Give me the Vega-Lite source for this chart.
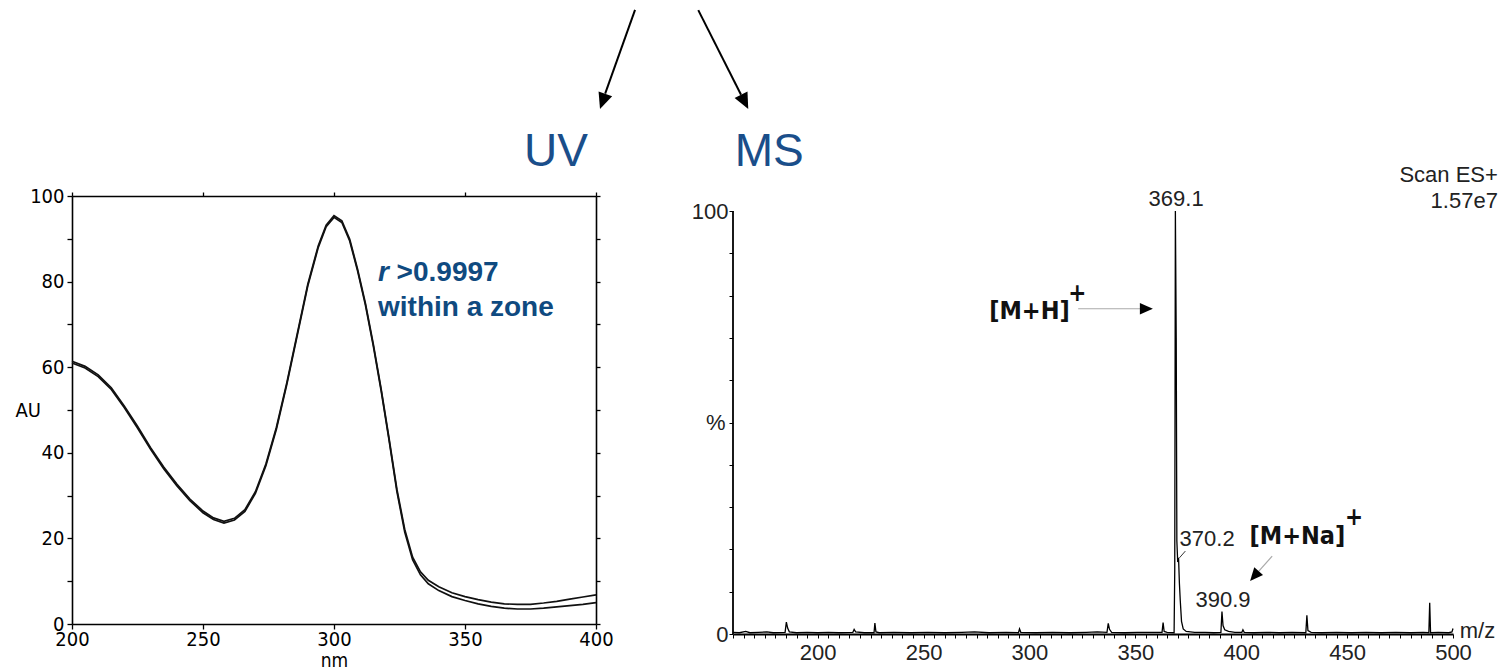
{
  "$schema": "https://vega.github.io/schema/vega-lite/v6.json",
  "padding": {"left": 15, "top": 8, "right": 0, "bottom": 0},
  "bounds": "flush",
  "spacing": 137,
  "config": {
    "view": {"stroke": null},
    "axis": {"grid": false, "domainColor": "#000", "tickColor": "#000", "labelColor": "#000", "titleColor": "#000", "titleFontWeight": "normal", "labelOverlap": false, "labelBound": false, "labelFlush": false}
  },
  "datasets": {
    "uvA": [
      {"nm": 200, "au": 61.0}, {"nm": 205, "au": 59.8}, {"nm": 210, "au": 57.8}, {"nm": 215, "au": 54.8},
      {"nm": 220, "au": 50.5}, {"nm": 225, "au": 45.8}, {"nm": 230, "au": 40.8}, {"nm": 235, "au": 36.3},
      {"nm": 240, "au": 32.3}, {"nm": 245, "au": 28.8}, {"nm": 250, "au": 26.0}, {"nm": 254, "au": 24.4},
      {"nm": 258, "au": 23.6}, {"nm": 262, "au": 24.3}, {"nm": 266, "au": 26.3}, {"nm": 270, "au": 30.5},
      {"nm": 274, "au": 37.0}, {"nm": 278, "au": 45.5}, {"nm": 282, "au": 56.0}, {"nm": 286, "au": 67.5},
      {"nm": 290, "au": 79.0}, {"nm": 294, "au": 88.0}, {"nm": 297, "au": 92.8}, {"nm": 300, "au": 95.0},
      {"nm": 303, "au": 93.8}, {"nm": 306, "au": 89.5}, {"nm": 309, "au": 82.5}, {"nm": 312, "au": 74.5},
      {"nm": 315, "au": 65.0}, {"nm": 318, "au": 54.5}, {"nm": 321, "au": 43.0}, {"nm": 324, "au": 31.0},
      {"nm": 327, "au": 21.5}, {"nm": 330, "au": 15.0}, {"nm": 333, "au": 11.5}, {"nm": 336, "au": 9.4},
      {"nm": 340, "au": 7.8}, {"nm": 345, "au": 6.4}, {"nm": 350, "au": 5.5}, {"nm": 355, "au": 4.7},
      {"nm": 360, "au": 4.1}, {"nm": 365, "au": 3.7}, {"nm": 370, "au": 3.5}, {"nm": 375, "au": 3.5},
      {"nm": 380, "au": 3.7}, {"nm": 385, "au": 4.0}, {"nm": 390, "au": 4.3}, {"nm": 395, "au": 4.6},
      {"nm": 400, "au": 5.0}
    ],
    "uvB": [
      {"nm": 200, "au": 61.4}, {"nm": 205, "au": 60.2}, {"nm": 210, "au": 58.2}, {"nm": 215, "au": 55.2},
      {"nm": 220, "au": 50.9}, {"nm": 225, "au": 46.2}, {"nm": 230, "au": 41.2}, {"nm": 235, "au": 36.7},
      {"nm": 240, "au": 32.7}, {"nm": 245, "au": 29.2}, {"nm": 250, "au": 26.4}, {"nm": 254, "au": 24.8},
      {"nm": 258, "au": 24.0}, {"nm": 262, "au": 24.7}, {"nm": 266, "au": 26.7}, {"nm": 270, "au": 30.9},
      {"nm": 274, "au": 37.4}, {"nm": 278, "au": 45.9}, {"nm": 282, "au": 56.4}, {"nm": 286, "au": 67.9},
      {"nm": 290, "au": 79.4}, {"nm": 294, "au": 88.4}, {"nm": 297, "au": 93.2}, {"nm": 300, "au": 95.4},
      {"nm": 303, "au": 94.2}, {"nm": 306, "au": 89.9}, {"nm": 309, "au": 82.9}, {"nm": 312, "au": 74.9},
      {"nm": 315, "au": 65.4}, {"nm": 318, "au": 54.9}, {"nm": 321, "au": 43.4}, {"nm": 324, "au": 31.5},
      {"nm": 327, "au": 22.1}, {"nm": 330, "au": 15.6}, {"nm": 333, "au": 12.2}, {"nm": 336, "au": 10.2},
      {"nm": 340, "au": 8.7}, {"nm": 345, "au": 7.3}, {"nm": 350, "au": 6.4}, {"nm": 355, "au": 5.7},
      {"nm": 360, "au": 5.1}, {"nm": 365, "au": 4.7}, {"nm": 370, "au": 4.6}, {"nm": 375, "au": 4.6},
      {"nm": 380, "au": 4.9}, {"nm": 385, "au": 5.3}, {"nm": 390, "au": 5.8}, {"nm": 395, "au": 6.3},
      {"nm": 400, "au": 6.8}
    ],
    "ms": [
      {"mz": 160, "p": 0.4}, {"mz": 163, "p": 0.3}, {"mz": 166, "p": 0.6}, {"mz": 168, "p": 0.3},
      {"mz": 172, "p": 0.4}, {"mz": 176, "p": 0.5}, {"mz": 179, "p": 0.3}, {"mz": 184.6, "p": 0.4},
      {"mz": 185.2, "p": 2.8}, {"mz": 185.8, "p": 1.4}, {"mz": 186.6, "p": 0.5}, {"mz": 190, "p": 0.3},
      {"mz": 195, "p": 0.4}, {"mz": 200, "p": 0.3}, {"mz": 205, "p": 0.4}, {"mz": 210, "p": 0.3},
      {"mz": 216.6, "p": 0.4}, {"mz": 217.2, "p": 1.1}, {"mz": 217.9, "p": 0.5}, {"mz": 222, "p": 0.3},
      {"mz": 226.6, "p": 0.3}, {"mz": 227.0, "p": 2.6}, {"mz": 227.5, "p": 0.5}, {"mz": 229, "p": 0.3},
      {"mz": 236, "p": 0.4}, {"mz": 244, "p": 0.3}, {"mz": 252, "p": 0.4}, {"mz": 260, "p": 0.3},
      {"mz": 268, "p": 0.4}, {"mz": 274, "p": 0.5}, {"mz": 281, "p": 0.3}, {"mz": 289, "p": 0.4},
      {"mz": 294.8, "p": 0.3}, {"mz": 295.3, "p": 1.2}, {"mz": 295.9, "p": 0.4}, {"mz": 303, "p": 0.3},
      {"mz": 311, "p": 0.4}, {"mz": 319, "p": 0.3}, {"mz": 327, "p": 0.4}, {"mz": 332, "p": 0.5},
      {"mz": 336.6, "p": 0.4}, {"mz": 337.2, "p": 2.5}, {"mz": 337.8, "p": 1.1}, {"mz": 338.8, "p": 0.4},
      {"mz": 345, "p": 0.3}, {"mz": 351, "p": 0.4}, {"mz": 357, "p": 0.4}, {"mz": 362.6, "p": 0.4},
      {"mz": 363.1, "p": 2.7}, {"mz": 363.6, "p": 0.6}, {"mz": 365, "p": 0.4}, {"mz": 368.3, "p": 0.3},
      {"mz": 368.6, "p": 15}, {"mz": 368.9, "p": 100}, {"mz": 369.3, "p": 70}, {"mz": 369.6, "p": 22},
      {"mz": 370.0, "p": 17}, {"mz": 370.4, "p": 18}, {"mz": 370.8, "p": 12}, {"mz": 371.2, "p": 8},
      {"mz": 371.8, "p": 3}, {"mz": 372.6, "p": 1.2}, {"mz": 374, "p": 0.6}, {"mz": 378, "p": 0.4},
      {"mz": 383, "p": 0.4}, {"mz": 387, "p": 0.3}, {"mz": 390.4, "p": 0.4}, {"mz": 390.9, "p": 5.3},
      {"mz": 391.4, "p": 2.0}, {"mz": 392.2, "p": 1.0}, {"mz": 394, "p": 0.6}, {"mz": 397, "p": 0.4},
      {"mz": 400.3, "p": 0.4}, {"mz": 400.8, "p": 1.0}, {"mz": 401.4, "p": 0.4}, {"mz": 406, "p": 0.3},
      {"mz": 412, "p": 0.4}, {"mz": 418, "p": 0.3}, {"mz": 424, "p": 0.4}, {"mz": 430.5, "p": 0.3},
      {"mz": 431.0, "p": 4.4}, {"mz": 431.5, "p": 0.8}, {"mz": 433, "p": 0.4}, {"mz": 438, "p": 0.3},
      {"mz": 445, "p": 0.4}, {"mz": 452, "p": 0.3}, {"mz": 459, "p": 0.4}, {"mz": 466, "p": 0.3},
      {"mz": 473, "p": 0.4}, {"mz": 480, "p": 0.3}, {"mz": 486, "p": 0.4}, {"mz": 488.6, "p": 0.3},
      {"mz": 489.0, "p": 7.4}, {"mz": 489.4, "p": 0.3}, {"mz": 493, "p": 0.4}, {"mz": 498, "p": 0.3},
      {"mz": 499.5, "p": 0.5}, {"mz": 500, "p": 1.3}
    ]
  },
  "hconcat": [
    {
      "width": 524,
      "height": 428,
      "resolve": {"axis": {"x": "independent", "y": "independent"}},
      "layer": [
        {
          "data": {"name": "uvA"},
          "mark": {"type": "line", "color": "#111", "strokeWidth": 1.7},
          "encoding": {
            "x": {"field": "nm", "type": "quantitative", "scale": {"domain": [200, 400], "nice": false},
              "axis": {"orient": "bottom", "values": [200, 250, 300, 350, 400], "tickSize": 5, "domainWidth": 1.6, "tickWidth": 1.3,
                "labelFont": "DejaVu Sans Condensed, sans-serif", "labelFontSize": 20, "labelPadding": 0,
                "title": "nm", "titleFont": "DejaVu Sans Condensed, sans-serif", "titleFontSize": 19,
                "titleY": 42, "titleBaseline": "alphabetic"}},
            "y": {"field": "au", "type": "quantitative", "scale": {"domain": [0, 100], "nice": false},
              "axis": {"orient": "left", "values": [0, 10, 20, 30, 40, 50, 60, 70, 80, 90, 100], "tickSize": 5, "domainWidth": 1.6, "tickWidth": 1.3,
                "labelExpr": "datum.value % 20 === 0 ? datum.label : ''",
                "labelFont": "DejaVu Sans Condensed, sans-serif", "labelFontSize": 20, "labelPadding": 3,
                "title": "AU", "titleFont": "DejaVu Sans Condensed, sans-serif", "titleFontSize": 20,
                "titleAngle": 0, "titleX": -57, "titleY": 214, "titleAlign": "left", "titleBaseline": "middle"}}
          }
        },
        {
          "data": {"name": "uvB"},
          "mark": {"type": "line", "color": "#111", "strokeWidth": 1.7},
          "encoding": {
            "x": {"field": "nm", "type": "quantitative",
              "axis": {"orient": "top", "values": [200, 250, 300, 350, 400], "tickSize": 4, "labels": false, "title": null, "domainWidth": 1.6, "tickWidth": 1.3}},
            "y": {"field": "au", "type": "quantitative",
              "axis": {"orient": "right", "values": [0, 10, 20, 30, 40, 50, 60, 70, 80, 90, 100], "tickSize": 4, "labels": false, "title": null, "domainWidth": 1.6, "tickWidth": 1.3}}
          }
        },
        {
          "data": {"values": [{"x": 316.8, "y": 80.1, "t": "r"}]},
          "mark": {"type": "text", "font": "Liberation Sans, Arial, sans-serif", "fontSize": 28, "fontWeight": "bold", "fontStyle": "italic", "color": "#0f4a80", "align": "left", "baseline": "alphabetic"},
          "encoding": {"x": {"field": "x", "type": "quantitative", "axis": null}, "y": {"field": "y", "type": "quantitative", "axis": null}, "text": {"field": "t"}}
        },
        {
          "data": {"values": [{"x": 323.9, "y": 80.1, "t": ">0.9997"}, {"x": 316.8, "y": 71.9, "t": "within a zone"}]},
          "mark": {"type": "text", "font": "Liberation Sans, Arial, sans-serif", "fontSize": 28, "fontWeight": "bold", "color": "#0f4a80", "align": "left", "baseline": "alphabetic"},
          "encoding": {"x": {"field": "x", "type": "quantitative", "axis": null}, "y": {"field": "y", "type": "quantitative", "axis": null}, "text": {"field": "t"}}
        },
        {
          "data": {"values": [{"x": 384.7, "y": 107.0, "t": "UV"}]},
          "mark": {"type": "text", "font": "Liberation Sans, Arial, sans-serif", "fontSize": 46, "color": "#1a4e8a", "align": "center", "baseline": "alphabetic"},
          "encoding": {"x": {"field": "x", "type": "quantitative", "axis": null}, "y": {"field": "y", "type": "quantitative", "axis": null}, "text": {"field": "t"}}
        },
        {
          "data": {"values": [{"x": 414.9, "y": 143.5, "x2": 403.5, "y2": 123.9}]},
          "mark": {"type": "rule", "color": "#000", "strokeWidth": 2},
          "encoding": {"x": {"field": "x", "type": "quantitative", "axis": null}, "y": {"field": "y", "type": "quantitative", "axis": null}, "x2": {"field": "x2"}, "y2": {"field": "y2"}}
        },
        {
          "data": {"values": [{"x": 402.55, "y": 122.1}]},
          "mark": {"type": "point", "shape": "M0,1L-0.9,-1L0.9,-1Z", "size": 256, "angle": 19.5, "filled": true, "color": "#000", "opacity": 1, "strokeWidth": 0},
          "encoding": {"x": {"field": "x", "type": "quantitative", "axis": null}, "y": {"field": "y", "type": "quantitative", "axis": null}}
        }
      ]
    },
    {
      "width": 720,
      "height": 438,
      "resolve": {"axis": {"x": "independent", "y": "independent"}},
      "layer": [
        {
          "data": {"name": "ms"},
          "mark": {"type": "line", "color": "#000", "strokeWidth": 1.3},
          "encoding": {
            "x": {"field": "mz", "type": "quantitative", "scale": {"domain": [160, 500], "nice": false},
              "axis": {"orient": "bottom", "values": [160,165,170,175,180,185,190,195,200,205,210,215,220,225,230,235,240,245,250,255,260,265,270,275,280,285,290,295,300,305,310,315,320,325,330,335,340,345,350,355,360,365,370,375,380,385,390,395,400,405,410,415,420,425,430,435,440,445,450,455,460,465,470,475,480,485,490,495,500],
                "labelExpr": "datum.value % 50 === 0 && datum.value >= 200 ? datum.label : ''",
                "tickSize": 4, "tickWidth": 1, "domainWidth": 1.8, "labelFont": "Liberation Sans, Arial, sans-serif", "labelFontSize": 22, "labelColor": "#222", "labelPadding": 4, "title": null}},
            "y": {"field": "p", "type": "quantitative", "scale": {"domain": [0, 103.55], "nice": false},
              "axis": {"orient": "left", "domain": false, "values": [0, 10, 20, 30, 40, 50, 60, 70, 80, 90, 100],
                "labelExpr": "datum.value === 0 || datum.value === 100 ? datum.label : ''",
                "tickSize": 4, "tickWidth": 1, "labelFont": "Liberation Sans, Arial, sans-serif", "labelFontSize": 22, "labelColor": "#222", "labelPadding": 1,
                "title": "%", "titleFont": "Liberation Sans, Arial, sans-serif", "titleFontSize": 22, "titleColor": "#222", "titleAngle": 0, "titleX": -8, "titleY": 226.5, "titleAlign": "right", "titleBaseline": "middle"}}
          }
        },
        {
          "data": {"values": [{"x": 160, "y": 0, "y2": 100}]},
          "mark": {"type": "rule", "color": "#000", "strokeWidth": 1.8},
          "encoding": {"x": {"field": "x", "type": "quantitative", "axis": null}, "y": {"field": "y", "type": "quantitative", "axis": null}, "y2": {"field": "y2"}}
        },
        {
          "data": {"values": [
            {"x": 369.25, "y": 101.2, "t": "369.1"},
            {"x": 383.9, "y": 20.8, "t": "370.2"},
            {"x": 391.4, "y": 6.4, "t": "390.9"}
          ]},
          "mark": {"type": "text", "font": "Liberation Sans, Arial, sans-serif", "fontSize": 22, "color": "#222", "align": "center", "baseline": "alphabetic"},
          "encoding": {"x": {"field": "x", "type": "quantitative", "axis": null}, "y": {"field": "y", "type": "quantitative", "axis": null}, "text": {"field": "t"}}
        },
        {
          "data": {"values": [
            {"x": 521.2, "y": 106.9, "t": "Scan ES+"},
            {"x": 521.2, "y": 100.7, "t": "1.57e7"}
          ]},
          "mark": {"type": "text", "font": "Liberation Sans, Arial, sans-serif", "fontSize": 22, "color": "#222", "align": "right", "baseline": "alphabetic"},
          "encoding": {"x": {"field": "x", "type": "quantitative", "axis": null}, "y": {"field": "y", "type": "quantitative", "axis": null}, "text": {"field": "t"}}
        },
        {
          "data": {"values": [{"x": 503.2, "y": -0.95, "t": "m/z"}]},
          "mark": {"type": "text", "font": "Liberation Sans, Arial, sans-serif", "fontSize": 22, "color": "#222", "align": "left", "baseline": "alphabetic"},
          "encoding": {"x": {"field": "x", "type": "quantitative", "axis": null}, "y": {"field": "y", "type": "quantitative", "axis": null}, "text": {"field": "t"}}
        },
        {
          "data": {"values": [
            {"x": 300.0, "y": 74.5, "t": "[M+H]"},
            {"x": 426.5, "y": 21.3, "t": "[M+Na]"}
          ]},
          "mark": {"type": "text", "font": "DejaVu Sans Condensed, sans-serif", "fontSize": 25, "fontWeight": "bold", "color": "#111", "align": "center", "baseline": "alphabetic"},
          "encoding": {"x": {"field": "x", "type": "quantitative", "axis": null}, "y": {"field": "y", "type": "quantitative", "axis": null}, "text": {"field": "t"}}
        },
        {
          "data": {"values": [
            {"x": 322.6, "y": 80.4, "t": "+"},
            {"x": 453.3, "y": 27.4, "t": "+"}
          ]},
          "mark": {"type": "text", "font": "DejaVu Sans Condensed, sans-serif", "fontSize": 24, "fontWeight": "bold", "color": "#111", "align": "center", "baseline": "middle"},
          "encoding": {"x": {"field": "x", "type": "quantitative", "axis": null}, "y": {"field": "y", "type": "quantitative", "axis": null}, "text": {"field": "t"}}
        },
        {
          "data": {"values": [
            {"x": 323.0, "y": 76.9, "x2": 352.3, "y2": 76.9},
            {"x": 414.6, "y": 18.4, "x2": 408.2, "y2": 14.8}
          ]},
          "mark": {"type": "rule", "color": "#aaa", "strokeWidth": 1.2},
          "encoding": {"x": {"field": "x", "type": "quantitative", "axis": null}, "y": {"field": "y", "type": "quantitative", "axis": null}, "x2": {"field": "x2"}, "y2": {"field": "y2"}}
        },
        {
          "data": {"values": [{"x": 373.6, "y": 19.6, "x2": 370.8, "y2": 18.0}]},
          "mark": {"type": "rule", "color": "#333", "strokeWidth": 1},
          "encoding": {"x": {"field": "x", "type": "quantitative", "axis": null}, "y": {"field": "y", "type": "quantitative", "axis": null}, "x2": {"field": "x2"}, "y2": {"field": "y2"}}
        },
        {
          "data": {"values": [{"x": 355.2, "y": 76.9}]},
          "mark": {"type": "point", "shape": "M0,1L-0.9,-1L0.9,-1Z", "size": 169, "angle": 270, "filled": true, "color": "#000", "opacity": 1, "strokeWidth": 0},
          "encoding": {"x": {"field": "x", "type": "quantitative", "axis": null}, "y": {"field": "y", "type": "quantitative", "axis": null}}
        },
        {
          "data": {"values": [{"x": 406.2, "y": 13.7}]},
          "mark": {"type": "point", "shape": "M0,1L-0.9,-1L0.9,-1Z", "size": 169, "angle": 41.3, "filled": true, "color": "#000", "opacity": 1, "strokeWidth": 0},
          "encoding": {"x": {"field": "x", "type": "quantitative", "axis": null}, "y": {"field": "y", "type": "quantitative", "axis": null}}
        },
        {
          "data": {"values": [{"x": 177.1, "y": 110.6, "t": "MS"}]},
          "mark": {"type": "text", "font": "Liberation Sans, Arial, sans-serif", "fontSize": 46, "color": "#1a4e8a", "align": "center", "baseline": "alphabetic"},
          "encoding": {"x": {"field": "x", "type": "quantitative", "axis": null}, "y": {"field": "y", "type": "quantitative", "axis": null}, "text": {"field": "t"}}
        },
        {
          "data": {"values": [{"x": 143.6, "y": 147.5, "x2": 163.8, "y2": 127.5}]},
          "mark": {"type": "rule", "color": "#000", "strokeWidth": 2},
          "encoding": {"x": {"field": "x", "type": "quantitative", "axis": null}, "y": {"field": "y", "type": "quantitative", "axis": null}, "x2": {"field": "x2"}, "y2": {"field": "y2"}}
        },
        {
          "data": {"values": [{"x": 165.5, "y": 125.8}]},
          "mark": {"type": "point", "shape": "M0,1L-0.9,-1L0.9,-1Z", "size": 256, "angle": 333.2, "filled": true, "color": "#000", "opacity": 1, "strokeWidth": 0},
          "encoding": {"x": {"field": "x", "type": "quantitative", "axis": null}, "y": {"field": "y", "type": "quantitative", "axis": null}}
        }
      ]
    }
  ]
}
